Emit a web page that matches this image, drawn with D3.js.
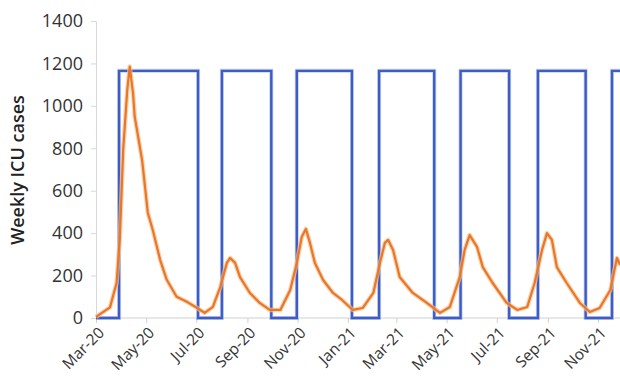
<!DOCTYPE html>
<html>
<head>
<meta charset="utf-8">
<script src="https://cdn.jsdelivr.net/npm/d3@7"></script>
<style>
  body { margin: 0; background: #fff; }
  svg { display: block; }
</style>
</head>
<body>
<svg id="Chart"></svg>
<script>
// weekly ICU cases (orange)
let icuDates = ["2020-03-01","2020-03-18","2020-03-26","2020-03-30","2020-04-03","2020-04-08","2020-04-11","2020-04-15","2020-04-17","2020-04-26",
  "2020-05-03","2020-05-09","2020-05-18","2020-05-26","2020-06-07","2020-06-20","2020-07-02","2020-07-11","2020-07-21","2020-07-30",
  "2020-08-07","2020-08-11","2020-08-17","2020-08-23","2020-09-04","2020-09-16","2020-09-28","2020-10-11","2020-10-23","2020-10-31",
  "2020-11-06","2020-11-11","2020-11-16","2020-11-22","2020-12-02","2020-12-14","2020-12-25","2021-01-07","2021-01-19","2021-02-01",
  "2021-02-09","2021-02-15","2021-02-19","2021-02-25","2021-03-05","2021-03-21","2021-04-07","2021-04-23","2021-05-05","2021-05-17",
  "2021-05-23","2021-05-29","2021-06-07","2021-06-14","2021-06-26","2021-07-13","2021-07-26","2021-08-07","2021-08-16","2021-08-25",
  "2021-08-31","2021-09-06","2021-09-12","2021-09-24","2021-10-10","2021-10-22","2021-11-03","2021-11-16","2021-11-24","2021-11-28"]
let icuValues = [5,50,165,380,790,1075,1185,1060,950,745,
  495,415,273,180,100,75,47,24,52,146,
  260,283,260,193,118,71,38,38,132,259,
  382,420,354,259,179,118,85,38,47,118,
  259,354,368,321,193,118,71,24,52,193,
  321,391,335,240,165,71,38,52,165,321,
  400,368,240,165,71,28,47,132,283,250]

// on/off intervention wave (blue)
let waveDates = ["2020-03-01","2020-03-29","2020-07-03","2020-08-01","2020-09-30","2020-10-31","2021-01-06","2021-02-08","2021-04-16",
  "2021-05-18","2021-07-16","2021-08-20","2021-10-17","2021-11-18","2021-12-10"]
let waveValues = [0,1165,0,1165,0,1165,0,1165,0,1165,0,1165,0,1165,1165]

let tickDates = ["2020-03-01","2020-05-01","2020-07-01","2020-09-01","2020-11-01","2021-01-01",
  "2021-03-01","2021-05-01","2021-07-01","2021-09-01","2021-11-01"]
let tickLabels = ["Mar-20","May-20","Jul-20","Sep-20","Nov-20","Jan-21","Mar-21","May-21","Jul-21","Sep-21","Nov-21"]
let yTicks = [0,200,400,600,800,1000,1200,1400]

let width = 620, height = 390
let fontFamily = "'Open Sans', sans-serif"
let parse = d3.timeParse("%Y-%m-%d")

let svg = d3.select("#Chart").attr("width", width).attr("height", height)

let x = d3.scaleTime()
    .domain([parse("2020-03-01"), parse("2021-11-01")])
    .range([96, 598])
let y = d3.scaleLinear()
    .domain([0, 1400])
    .range([318, 21])

// axes
let xAxis = d3.axisBottom(x)
    .tickValues(tickDates.map(parse))
    .tickFormat((d, i) => tickLabels[i])
    .tickSize(5)
    .tickSizeOuter(0)
let gx = svg.append("g").attr("transform", "translate(0,318)").call(xAxis)
gx.select(".domain").attr("d", "M96,0H620").attr("stroke", "#d0d0d0")
gx.selectAll(".tick line").attr("stroke", "#d0d0d0")
gx.selectAll("text")
    .attr("font-family", fontFamily)
    .attr("font-size", "15.5px")
    .attr("fill", "#333")
    .attr("text-anchor", "end")
    .attr("dy", "0")
    .attr("transform", "translate(3,10) rotate(-45)")

let yAxis = d3.axisLeft(y).tickValues(yTicks).tickFormat(d3.format("d")).tickSize(5).tickSizeOuter(0)
let gy = svg.append("g").attr("transform", "translate(96,0)").call(yAxis)
gy.select(".domain").attr("stroke", "#d8d8d8")
gy.selectAll(".tick line").attr("stroke", "#d8d8d8")
gy.selectAll("text")
    .attr("font-family", fontFamily)
    .attr("font-size", "18px")
    .attr("fill", "#333")
    .attr("x", -13)

svg.append("text")
    .attr("transform", "translate(24,170) rotate(-90)")
    .attr("text-anchor", "middle")
    .attr("font-family", fontFamily)
    .attr("font-size", "18px")
    .attr("font-weight", "600")
    .attr("fill", "#222")
    .text("Weekly ICU cases")

// blue step wave
let wave = waveDates.map((d, i) => ({date: parse(d), value: waveValues[i]}))
let stepLine = d3.line().x(d => x(d.date)).y(d => y(d.value)).curve(d3.curveStepAfter)
svg.append("path")
    .datum(wave)
    .attr("d", stepLine)
    .attr("fill", "none")
    .attr("stroke", "#8fa3e0")
    .attr("stroke-width", 4)
    .attr("opacity", 0.5)
svg.append("path")
    .datum(wave)
    .attr("d", stepLine)
    .attr("fill", "none")
    .attr("stroke", "#3d5cc4")
    .attr("stroke-width", 2.4)

// orange ICU line
let icu = icuDates.map((d, i) => ({date: parse(d), value: icuValues[i]}))
let icuLine = d3.line().x(d => x(d.date)).y(d => y(d.value))
svg.append("path")
    .datum(icu)
    .attr("d", icuLine)
    .attr("fill", "none")
    .attr("stroke", "#f7c08f")
    .attr("stroke-width", 4.5)
    .attr("stroke-linejoin", "round")
    .attr("opacity", 0.7)
svg.append("path")
    .datum(icu)
    .attr("d", icuLine)
    .attr("fill", "none")
    .attr("stroke", "#e8772a")
    .attr("stroke-width", 2.2)
    .attr("stroke-linejoin", "round")
</script>
</body>
</html>
